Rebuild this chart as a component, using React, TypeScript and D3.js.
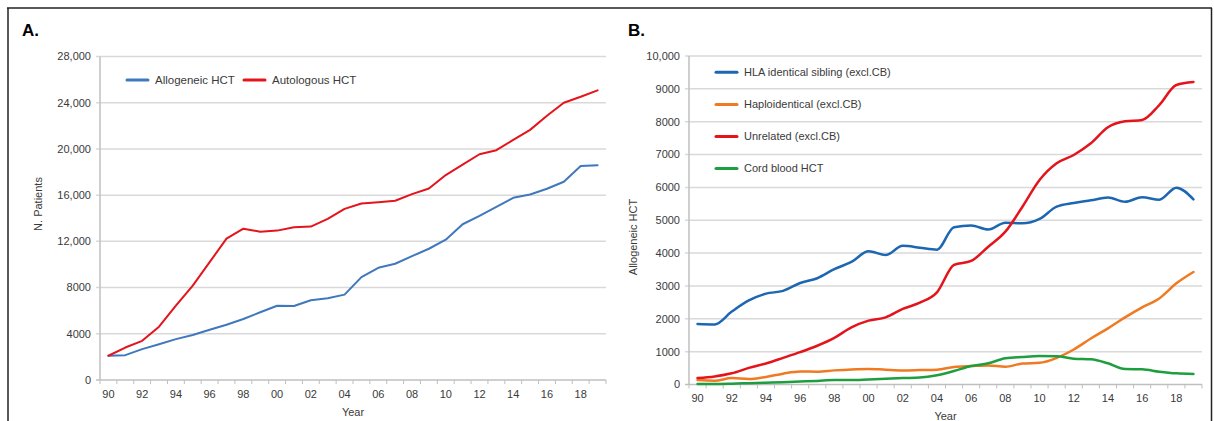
import React from 'react';
import * as d3 from 'd3';

const W = 1214;
const H = 421;

const years = d3.range(1990, 2020);
const yearTickLabels = ['90', '92', '94', '96', '98', '00', '02', '04', '06', '08', '10', '12', '14', '16', '18'];

// Panel A
const allogeneicHCT = [2100, 2150, 2670, 3100, 3540, 3890, 4350, 4780, 5280, 5860, 6430, 6400, 6900, 7070, 7390, 8900, 9710, 10060, 10720, 11360, 12140, 13480, 14200, 14990, 15770, 16060, 16550, 17160, 18520, 18580];
const autologousHCT = [2100, 2810, 3390, 4610, 6430, 8170, 10200, 12230, 13100, 12840, 12930, 13220, 13280, 13940, 14810, 15280, 15390, 15510, 16090, 16580, 17740, 18640, 19540, 19890, 20780, 21650, 22870, 24000, 24520, 25070];
const ticksA = [0, 4000, 8000, 12000, 16000, 20000, 24000, 28000];

// Panel B
const hlaSibling = [1845, 1830, 2220, 2560, 2765, 2850, 3090, 3235, 3510, 3730, 4055, 3942, 4220, 4165, 4105, 4790, 4840, 4720, 4925, 4905, 5040, 5412, 5525, 5606, 5692, 5560, 5702, 5626, 5990, 5637];
const haploidentical = [135, 115, 195, 165, 230, 330, 395, 390, 430, 460, 475, 450, 430, 440, 452, 535, 560, 580, 540, 640, 660, 810, 1065, 1400, 1710, 2045, 2350, 2620, 3080, 3425];
const unrelated = [195, 245, 340, 505, 640, 810, 985, 1180, 1420, 1740, 1945, 2045, 2300, 2490, 2806, 3638, 3760, 4195, 4652, 5412, 6225, 6733, 6986, 7342, 7829, 8012, 8052, 8508, 9117, 9209];
const cordBlood = [15, 15, 25, 40, 55, 70, 90, 110, 135, 135, 155, 175, 195, 210, 280, 411, 563, 645, 797, 837, 865, 860, 786, 766, 645, 472, 462, 391, 340, 320];
const ticksB = [0, 1000, 2000, 3000, 4000, 5000, 6000, 7000, 8000, 9000, 10000];

const FONT = 'Liberation Sans, Arial, sans-serif';
const TEXT = '#3a3a3a';
const GRID = '#d9d9d9';
const AXIS = '#bfbfbf';

const fmtTick = (v: number) => (v >= 10000 ? d3.format(',')(v) : String(v));

type Series = { name: string; values: number[]; color: string };

function Panel({ letter, letterX, left, right, top, bottom, yMax, yTicks, series, smooth, yLabel, yLabelX, yLabelY, legend, strokeWidth }: any) {
  const x = d3.scalePoint<number>().domain(years).range([left, right]).padding(0.5);
  const y = d3.scaleLinear().domain([0, yMax]).range([bottom, top]);
  const step = x.step();
  const bounds = years.map(yr => (x(yr) as number) - step / 2).concat([(x(years[years.length - 1]) as number) + step / 2]);
  const line = d3.line<number>()
    .x((_, i) => x(years[i]) as number)
    .y(d => y(d))
    .curve(smooth ? d3.curveMonotoneX : d3.curveLinear);

  return (
    <g>
      <text x={letterX} y={36} fontFamily={FONT} fontWeight="bold" fontSize={17} fill="#000">{letter}</text>
      {yTicks.map((t: number) => (
        <g key={t}>
          <line x1={left - 4} x2={right} y1={y(t)} y2={y(t)} stroke={t === 0 ? AXIS : GRID} strokeWidth={1.5} />
          <text x={left - 9} y={y(t)} dy="0.35em" textAnchor="end" fontFamily={FONT} fontSize={11} fill={TEXT}>{fmtTick(t)}</text>
        </g>
      ))}
      <line x1={left} x2={left} y1={top} y2={bottom} stroke={AXIS} strokeWidth={1.5} />
      {bounds.map((b, i) => (
        <line key={i} x1={b} x2={b} y1={bottom} y2={bottom + 4} stroke={AXIS} strokeWidth={1} />
      ))}
      {years.filter(yr => yr % 2 === 0).map((yr, i) => (
        <text key={yr} x={x(yr) as number} y={bottom + 14} dy="0.35em" textAnchor="middle" fontFamily={FONT} fontSize={11} fill={TEXT}>{yearTickLabels[i]}</text>
      ))}
      <text x={(left + right) / 2} y={bottom + 32} dy="0.35em" textAnchor="middle" fontFamily={FONT} fontSize={11} fill={TEXT}>Year</text>
      <text transform={`translate(${yLabelX},${yLabelY}) rotate(-90)`} textAnchor="middle" dy="0.35em" fontFamily={FONT} fontSize={11} fill={TEXT}>{yLabel}</text>
      {series.map((s: Series) => (
        <path key={s.name} d={line(s.values) || ''} fill="none" stroke={s.color} strokeWidth={strokeWidth} strokeLinejoin="round" strokeLinecap="round" />
      ))}
      {legend.map((l: any) => (
        <g key={l.name}>
          <line x1={l.x} x2={l.x + 21} y1={l.y} y2={l.y} stroke={l.color} strokeWidth={3} strokeLinecap="round" />
          <text x={l.x + 28} y={l.y} dy="0.35em" fontFamily={FONT} fontSize={l.fontSize} fill={TEXT}>{l.name}</text>
        </g>
      ))}
    </g>
  );
}

export default function App() {
  const seriesA: Series[] = [
    { name: 'Allogeneic HCT', values: allogeneicHCT, color: '#3f78bd' },
    { name: 'Autologous HCT', values: autologousHCT, color: '#e3141c' },
  ];
  const seriesB: Series[] = [
    { name: 'HLA identical sibling (excl.CB)', values: hlaSibling, color: '#1d67b2' },
    { name: 'Haploidentical (excl.CB)', values: haploidentical, color: '#ef7a21' },
    { name: 'Unrelated (excl.CB)', values: unrelated, color: '#e3141c' },
    { name: 'Cord blood HCT', values: cordBlood, color: '#1e9e3e' },
  ];
  const legendA = [
    { name: seriesA[0].name, color: seriesA[0].color, x: 127, y: 80, fontSize: 11.5 },
    { name: seriesA[1].name, color: seriesA[1].color, x: 244, y: 80, fontSize: 11.5 },
  ];
  const legendB = seriesB.map((s, i) => ({ name: s.name, color: s.color, x: 716, y: 72.3 + i * 32.1, fontSize: 11 }));

  return (
    <svg width={W} height={H} style={{ position: 'absolute', left: 0, top: 0, background: '#fff' }}>
      <rect x={0} y={0} width={W} height={H} fill="#fff" />
      <line x1={7} x2={1212} y1={8} y2={8} stroke="#222" strokeWidth={1.5} />
      <line x1={8} x2={8} y1={8} y2={H} stroke="#222" strokeWidth={1.5} />
      <line x1={1211.5} x2={1211.5} y1={8} y2={H} stroke="#222" strokeWidth={1.5} />
      <Panel letter="A." letterX={22} left={100} right={606} top={56.5} bottom={380} yMax={28000} yTicks={ticksA}
        series={seriesA} smooth={false} yLabel="N. Patients" yLabelX={38} yLabelY={204} legend={legendA} strokeWidth={2} />
      <Panel letter="B." letterX={628} left={689} right={1202} top={56} bottom={384.5} yMax={10000} yTicks={ticksB}
        series={seriesB} smooth={true} yLabel="Allogeneic HCT" yLabelX={633} yLabelY={237} legend={legendB} strokeWidth={2.5} />
    </svg>
  );
}
